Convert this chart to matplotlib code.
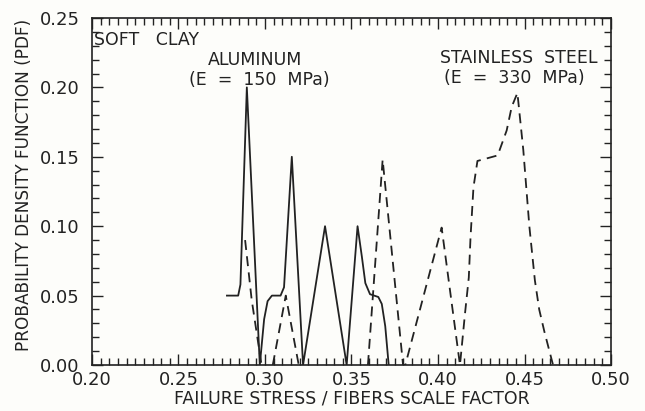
import numpy as np
import matplotlib
matplotlib.use("Agg")
import matplotlib.pyplot as plt
from matplotlib.ticker import MultipleLocator, FormatStrFormatter

nan = float("nan")

# Aluminum (solid)
al_x = [0.278, 0.2845, 0.2858, 0.2895, 0.297, 0.2995, 0.3015, 0.304, 0.309, 0.311,
        0.3155, 0.322, 0.3347, 0.3472, 0.3535, 0.356, 0.358, 0.3607, 0.3655, 0.3675,
        0.3695, 0.3715]
al_y = [0.05, 0.05, 0.058, 0.20, 0.0, 0.033, 0.046, 0.05, 0.05, 0.056,
        0.15, 0.0, 0.10, 0.0, 0.10, 0.078, 0.059, 0.051, 0.049, 0.044,
        0.028, 0.0]

# Stainless steel (dashed)
st_x = [0.2885, 0.2923, 0.298, nan, 0.3045, 0.312, 0.3195, nan,
        0.3595, 0.368, 0.3798, 0.3811, 0.4021, 0.4127, 0.4156, 0.4178, 0.4188,
        0.4205, 0.4228, 0.4345, 0.4397, 0.4426, 0.4459, 0.4493, 0.4528, 0.456,
        0.4585, 0.4615, 0.4665]
st_y = [0.09, 0.047, 0.0, nan, 0.0, 0.05, 0.0, nan,
        0.0, 0.148, 0.0, 0.0, 0.099, 0.0, 0.037, 0.063, 0.092,
        0.128, 0.147, 0.151, 0.169, 0.186, 0.196, 0.155, 0.10, 0.061,
        0.040, 0.024, 0.0]

x_ticks = [0.20, 0.25, 0.30, 0.35, 0.40, 0.45, 0.50]
y_ticks = [0.00, 0.05, 0.10, 0.15, 0.20, 0.25]

plt.rcParams['font.family'] = ['DejaVu Sans']
ink = "#222222"
bg = "#fdfdfa"

fig = plt.figure(figsize=(6.45, 4.11), dpi=100, facecolor=bg)
ax = fig.add_axes([92/645, 1-365/411, (611-92)/645, (365-18)/411])
ax.set_facecolor(bg)

ax.plot(al_x, al_y, color=ink, lw=1.3, solid_joinstyle="round")
ax.plot(st_x, st_y, color=ink, lw=1.3, linestyle=(0, (5.5, 3.5)))

ax.set_xlim(0.20, 0.50)
ax.set_ylim(0.0, 0.25)
ax.set_xticks(x_ticks)
ax.set_yticks(y_ticks)
ax.xaxis.set_major_formatter(FormatStrFormatter("%.2f"))
ax.yaxis.set_major_formatter(FormatStrFormatter("%.2f"))
ax.xaxis.set_minor_locator(MultipleLocator(0.005))
ax.yaxis.set_minor_locator(MultipleLocator(0.01))
ax.tick_params(which="both", direction="in", top=True, right=True, color=ink, width=1.0)
ax.tick_params(which="major", length=8)
ax.tick_params(which="minor", length=5)
ax.tick_params(axis="x", which="major", labelsize=13, pad=4, labelcolor=ink)
ax.tick_params(axis="y", which="major", labelsize=13, pad=9, labelcolor=ink)
for s in ax.spines.values():
    s.set_color(ink)
    s.set_linewidth(1.2)

ax.set_xlabel("FAILURE STRESS / FIBERS SCALE FACTOR", fontsize=12.5, color=ink, labelpad=1)
ax.set_ylabel("PROBABILITY DENSITY FUNCTION (PDF)", fontsize=12.2, color=ink)
ax.yaxis.set_label_coords(-0.114, 0.519)

ax.text(0.2012, 0.2305, "SOFT   CLAY", fontsize=12.5, color=ink, ha="left", va="baseline")
ax.text(0.2942, 0.2161, "ALUMINUM", fontsize=12.5, color=ink, ha="center", va="baseline")
ax.text(0.2965, 0.2017, "(E  =  150  MPa)", fontsize=12.5, color=ink, ha="center", va="baseline")
ax.text(0.4465, 0.2176, "STAINLESS  STEEL", fontsize=12.5, color=ink, ha="center", va="baseline")
ax.text(0.4439, 0.2032, "(E  =  330  MPa)", fontsize=12.5, color=ink, ha="center", va="baseline")

fig.savefig("out.png", dpi=100, facecolor=fig.get_facecolor())
